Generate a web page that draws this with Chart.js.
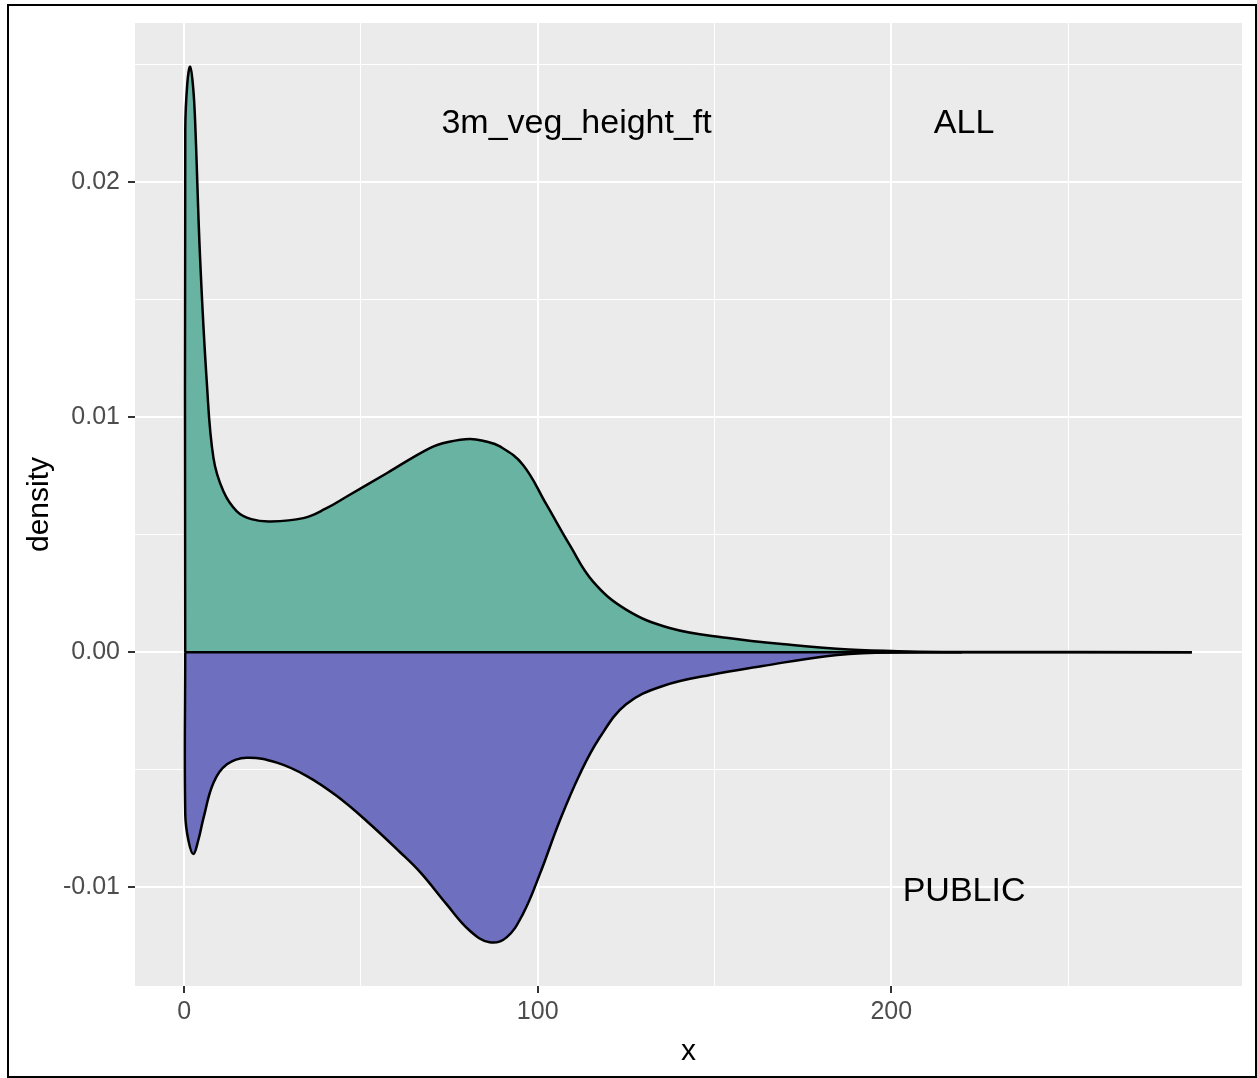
<!DOCTYPE html>
<html>
<head>
<meta charset="utf-8">
<script src="https://cdn.jsdelivr.net/npm/chart.js@4.4.0/dist/chart.umd.min.js"></script>
<style>
  html, body { margin: 0; padding: 0; background: #fff; }
  #wrap { position: relative; width: 1257px; height: 1078px; }
</style>
</head>
<body>
<div id="wrap"><canvas id="densityChart" width="1257" height="1078"></canvas></div>
<script>
// density of 3m_veg_height_ft
const allX = [0.3, 0.32, 0.9, 1.7, 2.5, 3.1, 4.5, 6.4, 8.3, 11.1, 14.9, 19, 24.3, 33.7, 40, 46, 57.3, 69.5, 75, 80.8, 85, 89.3, 95.8, 102.5, 109, 115.6, 125, 137.3, 153.3, 172, 188, 205, 220, 285];
const allY = [0, 0.0222, 0.0242, 0.0249, 0.0241, 0.0226, 0.0168, 0.0115, 0.00825, 0.00684, 0.00599, 0.00566, 0.00556, 0.0057, 0.0061, 0.00662, 0.00761, 0.00868, 0.00895, 0.00907, 0.00897, 0.00875, 0.00797, 0.00627, 0.00457, 0.00301, 0.00181, 0.00103, 0.00061, 0.0003, 0.00011, 0.00003, 0.00001, 0];

const publicX = [0.3, 0.32, 1.2, 2.6, 4, 5.5, 8.3, 12.1, 17.7, 26.2, 34.7, 43.1, 51.6, 61, 67, 74.2, 80.8, 86.4, 91.2, 95.8, 100.6, 106.2, 111.9, 117.5, 125, 135.4, 149.5, 163.6, 181.6, 195.7, 220];
const publicY = [0, -0.0069, -0.0080, -0.00859, -0.0080, -0.00704, -0.00555, -0.00477, -0.00449, -0.0047, -0.00527, -0.00611, -0.00718, -0.0085, -0.0094, -0.01072, -0.01185, -0.01234, -0.01213, -0.01114, -0.00944, -0.00718, -0.00519, -0.00364, -0.00222, -0.00144, -0.00095, -0.00059, -0.00017, -0.00003, 0];

const xTicks = [0, 50, 100, 150, 200, 250];
const xLabels = [0, 100, 200];
const yTicks = [-0.01, -0.005, 0, 0.005, 0.01, 0.015, 0.02, 0.025];
const yLabels = [-0.01, 0, 0.01, 0.02];

function toPoints(xs, ys) {
    return xs.map((x, i) => ({ x: x, y: ys[i] }));
}

const isMajor = (list, v) => list.some(m => Math.abs(m - v) < 1e-9);

// grey panel, text labels and black frame
const panelPlugin = {
    id: 'panel',
    beforeDraw(chart) {
        const { ctx, chartArea: a } = chart;
        ctx.save();
        ctx.fillStyle = '#ebebeb';
        ctx.fillRect(a.left, a.top, a.right - a.left, a.bottom - a.top);
        ctx.restore();
    },
    afterDraw(chart) {
        const { ctx, scales } = chart;
        ctx.save();
        ctx.fillStyle = '#000';
        ctx.font = '34px "Liberation Sans", Arial, sans-serif';
        ctx.textAlign = 'center';
        ctx.textBaseline = 'middle';
        ctx.fillText('3m_veg_height_ft', scales.x.getPixelForValue(111), scales.y.getPixelForValue(0.0225));
        ctx.fillText('ALL', scales.x.getPixelForValue(220.6), scales.y.getPixelForValue(0.0225));
        ctx.fillText('PUBLIC', scales.x.getPixelForValue(220.6), scales.y.getPixelForValue(-0.0102));

        ctx.strokeStyle = '#000';
        ctx.lineWidth = 2;
        ctx.strokeRect(8, 5, 1248, 1072);
        ctx.restore();
    }
};

const ctx = document.getElementById('densityChart').getContext('2d');
new Chart(ctx, {
    type: 'line',
    data: {
        datasets: [
            {
                label: 'baseline',
                data: [{ x: allX[0], y: 0 }, { x: allX[allX.length - 1], y: 0 }],
                borderColor: '#000',
                borderWidth: 2.5,
                pointRadius: 0,
                fill: false,
                order: 0
            },
            {
                label: 'ALL',
                data: toPoints(allX, allY),
                borderColor: '#000',
                borderWidth: 2.5,
                backgroundColor: '#69b3a2',
                pointRadius: 0,
                tension: 0.4,
                fill: 'origin',
                order: 1
            },
            {
                label: 'PUBLIC',
                data: toPoints(publicX, publicY),
                borderColor: '#000',
                borderWidth: 2.5,
                backgroundColor: '#6e6fbf',
                pointRadius: 0,
                tension: 0.4,
                fill: 'origin',
                order: 2
            }
        ]
    },
    options: {
        responsive: false,
        animation: false,
        layout: { padding: { left: 0, top: 20, right: 15, bottom: 0 } },
        plugins: {
            legend: { display: false },
            tooltip: { enabled: false }
        },
        scales: {
            x: {
                type: 'linear',
                min: -13.9,
                max: 299.2,
                afterBuildTicks: (scale) => { scale.ticks = xTicks.map(v => ({ value: v })); },
                afterFit: (scale) => { scale.height = 92; },
                border: { display: false },
                grid: {
                    color: '#ffffff',
                    lineWidth: (c) => isMajor(xLabels, c.tick.value) ? 2 : 1,
                    tickColor: (c) => isMajor(xLabels, c.tick.value) ? '#333333' : 'rgba(0,0,0,0)',
                    tickLength: 7,
                    tickWidth: 2
                },
                ticks: {
                    autoSkip: false,
                    maxRotation: 0,
                    padding: 4,
                    color: '#4d4d4d',
                    font: { family: '"Liberation Sans", Arial, sans-serif', size: 25 },
                    callback: (v) => isMajor(xLabels, v) ? String(v) : ''
                },
                title: {
                    display: true,
                    text: 'x',
                    color: '#000',
                    font: { family: '"Liberation Sans", Arial, sans-serif', size: 30 },
                    padding: { top: 0, bottom: 8 }
                }
            },
            y: {
                type: 'linear',
                min: -0.0142,
                max: 0.02676,
                afterBuildTicks: (scale) => { scale.ticks = yTicks.map(v => ({ value: v })); },
                afterFit: (scale) => { scale.width = 135; },
                border: { display: false },
                grid: {
                    color: '#ffffff',
                    lineWidth: (c) => isMajor(yLabels, c.tick.value) ? 2 : 1,
                    tickColor: (c) => isMajor(yLabels, c.tick.value) ? '#333333' : 'rgba(0,0,0,0)',
                    tickLength: 7,
                    tickWidth: 2
                },
                ticks: {
                    autoSkip: false,
                    padding: 8,
                    color: '#4d4d4d',
                    font: { family: '"Liberation Sans", Arial, sans-serif', size: 25 },
                    callback: (v) => isMajor(yLabels, v) ? v.toFixed(2) : ''
                },
                title: {
                    display: true,
                    text: 'density',
                    color: '#000',
                    font: { family: '"Liberation Sans", Arial, sans-serif', size: 30 },
                    padding: { top: 22, bottom: 0 }
                }
            }
        }
    },
    plugins: [panelPlugin]
});
</script>
</body>
</html>
